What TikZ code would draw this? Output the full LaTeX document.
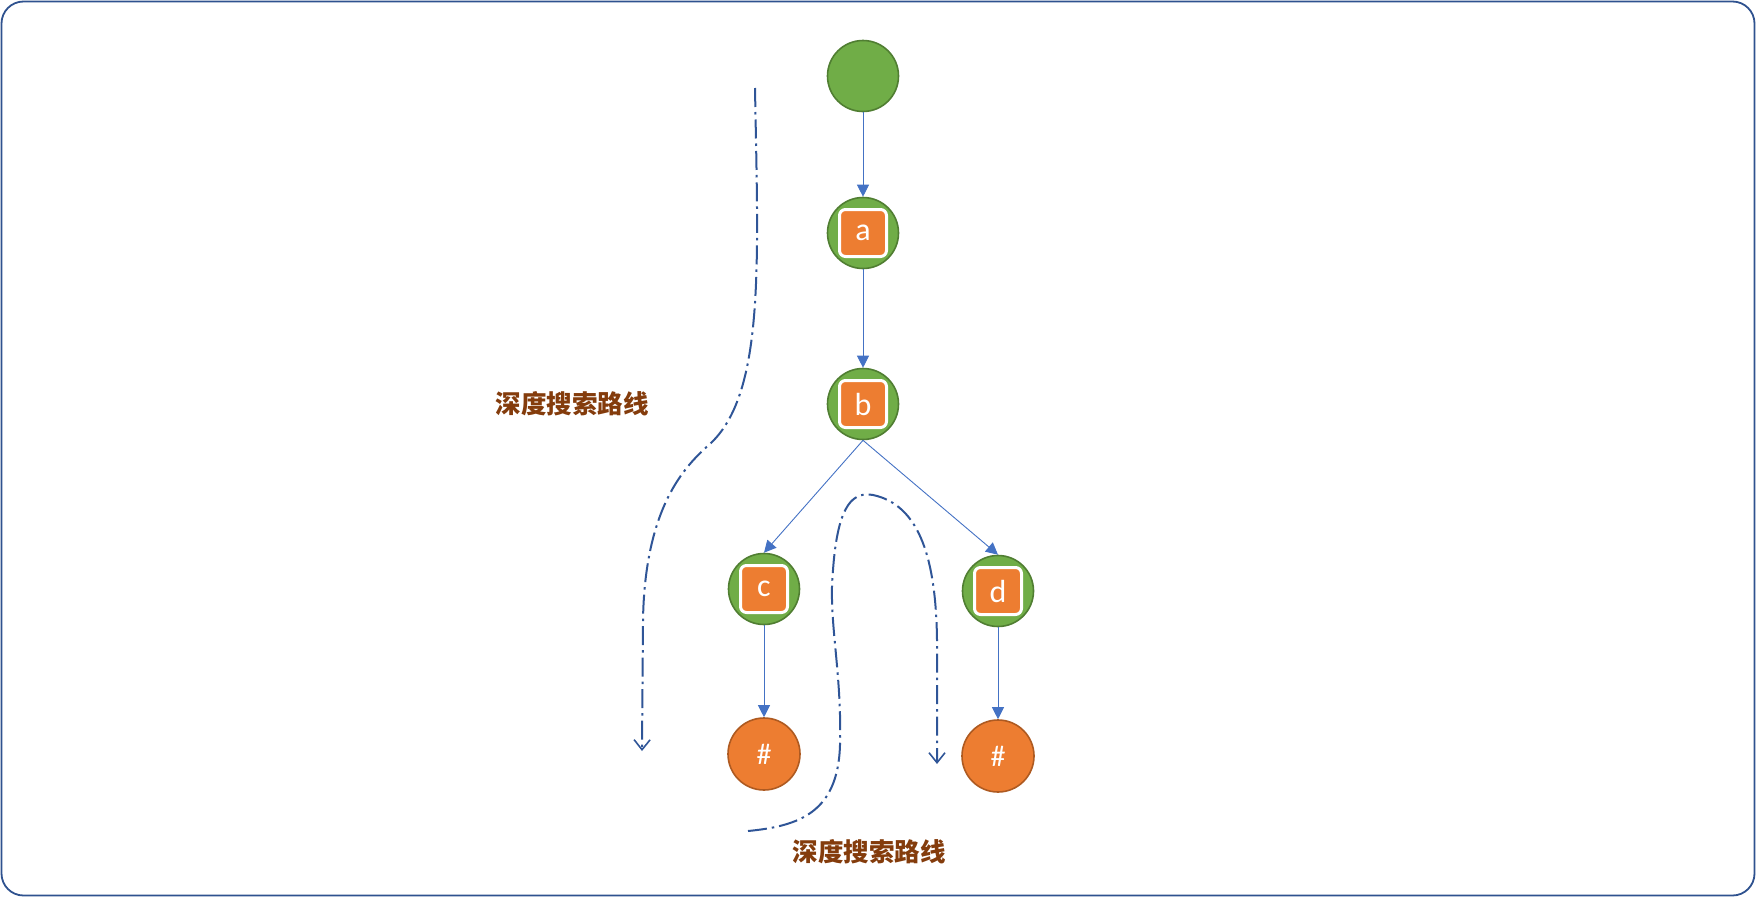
\documentclass[tikz,border=0pt]{standalone}
\usepackage{fontspec}
\setmainfont{Carlito}
\newfontfamily\cjk{Noto Sans CJK SC}
\usetikzlibrary{arrows.meta}
\definecolor{gfill}{HTML}{70AD47}
\definecolor{gline}{HTML}{507E32}
\definecolor{ofill}{HTML}{ED7D31}
\definecolor{oline}{HTML}{AE5A21}
\definecolor{tbrown}{HTML}{843C0C}
\definecolor{conn}{HTML}{4472C4}
\definecolor{pathc}{HTML}{2F5597}
\definecolor{framec}{HTML}{2F528F}
\tikzset{
  gnode/.style={circle,fill=gfill,draw=gline,line width=1.6pt,minimum size=71pt,inner sep=0pt},
  hnode/.style={circle,fill=ofill,draw=oline,line width=1.6pt,minimum size=72pt,inner sep=0pt,text=white,font=\fontsize{30pt}{32pt}\selectfont},
  sq/.style={rectangle,rounded corners=6pt,fill=ofill,draw=white,line width=3pt,minimum size=47pt,inner sep=0pt,text=white,font=\fontsize{32pt}{34pt}\selectfont},
  conn/.style={draw=conn,line width=0.9pt,-{Triangle[length=12pt,width=12pt]}},
  route/.style={draw=pathc,line width=2pt,dash pattern=on 19pt off 5pt on 2.5pt off 5pt,-{Straight Barb[length=10pt,width=16pt,line width=1.6pt]}},
  lbl/.style={text=tbrown,font=\cjk\bfseries\fontsize{25.5pt}{27pt}\selectfont}
}
\begin{document}
\begin{tikzpicture}[x=1pt,y=-1pt]
\useasboundingbox (0,0) rectangle (1756,897);
\draw[framec,line width=1.8pt,rounded corners=22pt] (1.5,1.5) rectangle (1754.5,895.5);

\node[gnode] (root) at (863,76) {};
\node[gnode] (a) at (863,233) {};
\node[sq] (asq) at (a) {a};
\node[gnode] (b) at (863,404) {};
\node[sq] (bsq) at (b) {b};
\node[gnode] (c) at (764,589) {};
\node[sq] (csq) at (c) {c};
\node[gnode] (d) at (998,591) {};
\node[sq] (dsq) at (d) {d};
\node[hnode] (h1) at (764,754) {\#};
\node[hnode] (h2) at (998,756) {\#};

\draw[conn] (root.south) -- (a.north);
\draw[conn] (a.south) -- (b.north);
\draw[conn] (b.south) -- (c.north);
\draw[conn] (b.south) -- (d.north);
\draw[conn] (c.south) -- (h1.north);
\draw[conn] (d.south) -- (h2.north);

\node[lbl] (t1) at (572,404) {深度搜索路线};
\node[lbl] (t2) at (869,852) {深度搜索路线};

\coordinate (r1s) at (755,88);
\coordinate (r1e) at (642,751);
\draw[route] (r1s) .. controls (758,260) and (765,390) .. (712,442)
  .. controls (690,462) and (645,500) .. (643,620) -- (r1e);

\coordinate (r2s) at (748,831);
\coordinate (r2e) at (937,764);
\draw[route] (r2s) .. controls (800,826) and (838,812) .. (840,745)
  .. controls (842,670) and (828,620) .. (833,570)
  .. controls (838,500) and (855,492) .. (873,495)
  .. controls (920,505) and (936,560) .. (937,640) -- (r2e);
\end{tikzpicture}
\end{document}
